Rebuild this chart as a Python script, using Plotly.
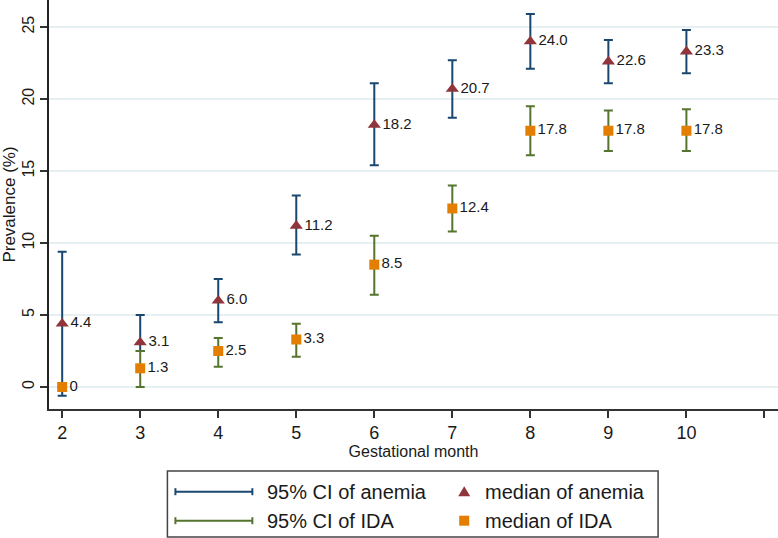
import plotly.graph_objects as go

months = [2, 3, 4, 5, 6, 7, 8, 9, 10]
anemia_median = [4.4, 3.1, 6.0, 11.2, 18.2, 20.7, 24.0, 22.6, 23.3]
anemia_lower = [-0.6, 2.5, 4.5, 9.2, 15.4, 18.7, 22.1, 21.1, 21.8]
anemia_upper = [9.4, 5.0, 7.5, 13.3, 21.1, 22.7, 25.9, 24.1, 24.8]
anemia_labels = ["4.4", "3.1", "6.0", "11.2", "18.2", "20.7", "24.0", "22.6", "23.3"]

ida_median = [0.0, 1.3, 2.5, 3.3, 8.5, 12.4, 17.8, 17.8, 17.8]
ida_lower = [0.0, 0.0, 1.4, 2.1, 6.4, 10.8, 16.1, 16.4, 16.4]
ida_upper = [0.0, 2.5, 3.4, 4.4, 10.5, 14.0, 19.5, 19.2, 19.3]
ida_labels = ["0", "1.3", "2.5", "3.3", "8.5", "12.4", "17.8", "17.8", "17.8"]

x_ticks = [2, 3, 4, 5, 6, 7, 8, 9, 10, 11]
x_ticktext = ["2", "3", "4", "5", "6", "7", "8", "9", "10", ""]
y_ticks = [0, 5, 10, 15, 20, 25]

legend_labels = ["95% CI of anemia", "median of anemia", "95% CI of IDA", "median of IDA"]

NAVY = "#1a476f"
GREEN = "#55752f"
MAROON = "#90353b"
ORANGE = "#e37e00"
FONT = "Liberation Sans, Arial, sans-serif"

W, H = 778, 538
ML, MR, MT, MB = 48.5, 0, 0, 129
PW, PH = W - ML - MR, H - MT - MB


def px_x(px):
    return (px - ML) / PW


def px_y(py):
    return (H - MB - py) / PH


fig = go.Figure()


def ci_trace(med, lo, up, color):
    return go.Scatter(
        x=months, y=med, mode="markers",
        marker=dict(size=1, color="rgba(0,0,0,0)"),
        error_y=dict(type="data", symmetric=False,
                     array=[u - m for u, m in zip(up, med)],
                     arrayminus=[m - l for m, l in zip(med, lo)],
                     color=color, thickness=2, width=4.5),
        showlegend=False, hoverinfo="skip")


fig.add_trace(ci_trace(anemia_median, anemia_lower, anemia_upper, NAVY))
fig.add_trace(ci_trace(ida_median, ida_lower, ida_upper, GREEN))

fig.add_trace(go.Scatter(
    x=months, y=anemia_median, mode="markers+text",
    marker=dict(symbol="triangle-up", size=11.5, color=MAROON),
    text=anemia_labels, textposition="middle right",
    textfont=dict(family=FONT, size=15, color="#1a1a1a"),
    showlegend=False))
fig.add_trace(go.Scatter(
    x=months, y=ida_median, mode="markers+text",
    marker=dict(symbol="square", size=10, color=ORANGE),
    text=ida_labels, textposition="middle right",
    textfont=dict(family=FONT, size=15, color="#1a1a1a"),
    showlegend=False))

# legend box (drawn manually, Stata style)
shapes = []
annotations = []
bx0, bx1, by0, by1 = 167, 658, 471, 537
shapes.append(dict(type="rect", xref="paper", yref="paper",
                   x0=px_x(bx0), x1=px_x(bx1), y0=px_y(by0), y1=px_y(by1),
                   line=dict(color="#444444", width=1.5), fillcolor="white"))
rows = [491.7, 520.7]
ci_colors = [NAVY, GREEN]
for r, c in zip(rows, ci_colors):
    shapes.append(dict(type="line", xref="paper", yref="paper",
                       x0=px_x(175), x1=px_x(252), y0=px_y(r), y1=px_y(r),
                       line=dict(color=c, width=2)))
    for xx in (175, 252):
        shapes.append(dict(type="line", xref="paper", yref="paper",
                           x0=px_x(xx), x1=px_x(xx), y0=px_y(r - 3.5), y1=px_y(r + 3.5),
                           line=dict(color=c, width=2)))
# triangle symbol
shapes.append(dict(type="path", xref="paper", yref="paper",
                   xsizemode="pixel", ysizemode="pixel",
                   xanchor=px_x(464), yanchor=px_y(rows[0]),
                   path="M -6,-4.5 L 6,-4.5 L 0,5.5 Z",
                   fillcolor=MAROON, line=dict(width=0)))
shapes.append(dict(type="rect", xref="paper", yref="paper",
                   xsizemode="pixel", ysizemode="pixel",
                   xanchor=px_x(464), yanchor=px_y(rows[1]),
                   x0=-5, x1=5, y0=-5, y1=5,
                   fillcolor=ORANGE, line=dict(width=0)))
text_pos = [(265, rows[0]), (483, rows[0]), (265, rows[1]), (483, rows[1])]
for lab, (tx, ty) in zip(legend_labels, text_pos):
    annotations.append(dict(xref="paper", yref="paper", x=px_x(tx), y=px_y(ty),
                            text=lab, showarrow=False, xanchor="left", yanchor="middle",
                            font=dict(family=FONT, size=20, color="#1a1a1a")))

fig.update_layout(
    width=W, height=H,
    margin=dict(l=ML, r=MR, t=MT, b=MB, pad=0, autoexpand=False),
    paper_bgcolor="white", plot_bgcolor="white",
    font=dict(family=FONT, color="#1a1a1a"),
    shapes=shapes, annotations=annotations,
    xaxis=dict(range=[1.831, 11.174], tickvals=x_ticks, ticktext=x_ticktext,
               automargin=False,
               showgrid=False, zeroline=False, showline=True, linecolor="#333333",
               linewidth=1.5, ticks="outside", ticklen=7, tickwidth=1.5, tickcolor="#333333",
               tickfont=dict(size=18, family=FONT, color="#1a1a1a"),
               title=dict(text="Gestational month", font=dict(size=16, family=FONT), standoff=2)),
    yaxis=dict(range=[-1.527, 26.88], tickvals=y_ticks, tickangle=-90,
               automargin=False,
               showgrid=True, gridcolor="#e6eff1", gridwidth=1.5,
               zeroline=False, showline=True, linecolor="#222222", linewidth=1.5,
               ticks="outside", ticklen=7, tickwidth=1.5, tickcolor="#333333",
               tickfont=dict(size=16, family=FONT, color="#1a1a1a"),
               title=dict(text="Prevalence (%)", font=dict(size=17, family=FONT), standoff=4)),
)

fig.write_html("out.html", config={"displayModeBar": False},
               post_script="document.body.style.margin='0';document.body.style.overflow='hidden';")
